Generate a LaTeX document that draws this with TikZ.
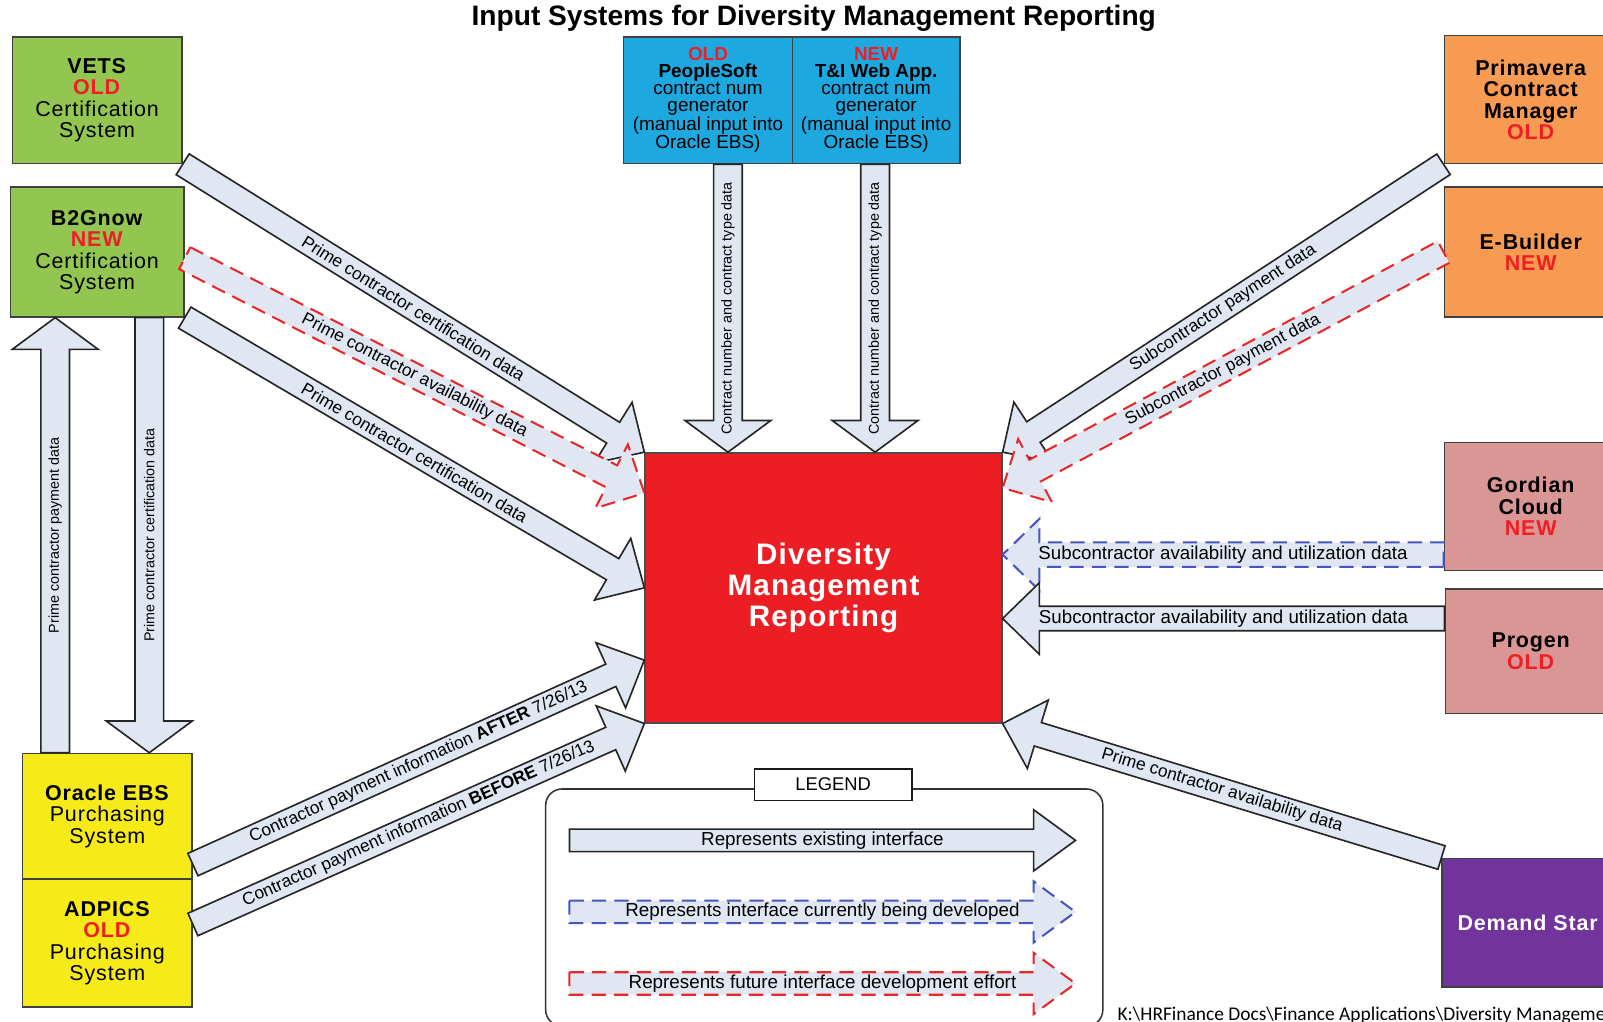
\documentclass[tikz,border=0pt]{standalone}
\usepackage{fontspec}
\setmainfont{Liberation Sans}
\newfontfamily\notefont{Carlito}
\newfontfamily\spacedfont[LetterSpace=4]{Liberation Sans}
\usetikzlibrary{calc}

\definecolor{vetsgreen}{RGB}{146,198,80}
\definecolor{psblue}{RGB}{30,168,224}
\definecolor{primorange}{RGB}{247,154,82}
\definecolor{gordpink}{RGB}{217,150,148}
\definecolor{dspurple}{RGB}{112,52,156}
\definecolor{ebsyellow}{RGB}{246,234,24}
\definecolor{dmrred}{RGB}{236,30,36}
\definecolor{tagred}{RGB}{240,30,36}
\definecolor{arrowfill}{RGB}{224,231,242}
\definecolor{devblue}{RGB}{70,86,190}
\definecolor{futred}{RGB}{230,40,40}

\newcommand\tagold{\textcolor{tagred}{\textbf{OLD}}}
\newcommand\tagnew{\textcolor{tagred}{\textbf{NEW}}}

\tikzset{
  shaft width/.store in=\iashaft,
  head width/.store in=\iahead,
  head length/.store in=\iahlen,
  text pos/.store in=\iapos,
  lbl font/.store in=\ialblfont,
  iface/.style={shaft width=24, head width=70, head length=36, text pos=0.5,
    lbl font=\fontsize{17}{18}\selectfont, line width=1.6pt, draw=black!85},
  updown/.style={shaft width=28, head width=84, head length=31,
    lbl font=\fontsize{14}{15}\selectfont},
  keyarrow/.style={shaft width=22, head width=60, head length=41,
    lbl font=\fontsize{18.4}{19}\selectfont},
  widelbl/.style={lbl font=\fontsize{18.3}{19}\selectfont},
  planned/.style={draw=devblue, line width=2pt, dash pattern=on 14pt off 8pt},
  future/.style={draw=futred, line width=2pt, dash pattern=on 14pt off 8pt},
  sysbox/.style={draw=black!75, line width=1.4pt, align=center, inner sep=0pt,
    font=\spacedfont\fontsize{21}{21}\selectfont},
  boxtext/.style={align=center, font=\spacedfont\fontsize{21}{21}\selectfont},
}

% block arrow with its label: [style]{from}{to}{label name}{label}
\newcommand\iface[5][]{%
  \begin{scope}[iface,#1]
    \coordinate (ia) at (#2);
    \coordinate (ib) at (#3);
    \pgfpointdiff{\pgfpointanchor{ia}{center}}{\pgfpointanchor{ib}{center}}%
    \pgfgetlastxy\iadx\iady
    \pgfmathsetmacro\ialen{veclen(\iadx,\iady)}%
    \pgfmathsetmacro\iaang{atan2(\iady,\iadx)}%
    \pgfmathsetmacro\iatxt{(\iaang<-89.5 || \iaang>90.5) ? \iaang+180 : \iaang}%
    \pgfmathsetmacro\iabase{\ialen-\iahlen}%
    \pgfmathsetmacro\ias{\iashaft/2}%
    \pgfmathsetmacro\iah{\iahead/2}%
    \draw[fill=arrowfill, shift={(ia)}, rotate=\iaang]
      (0pt,\ias pt) -- (\iabase pt,\ias pt) -- (\iabase pt,\iah pt) -- (\ialen pt,0pt)
      -- (\iabase pt,-\iah pt) -- (\iabase pt,-\ias pt) -- (0pt,-\ias pt) -- cycle;
    \node[font=\ialblfont, rotate=\iatxt, inner sep=0pt] (#4) at ($(ia)!\iapos!(ib)$) {#5};
  \end{scope}}

\begin{document}
\begin{tikzpicture}[x=1pt,y=-1pt]
\path[use as bounding box, fill=white] (0,0) rectangle (1568,999);

\node[font=\bfseries\fontsize{27.5}{29}\selectfont] (title) at (796,18)
  {Input Systems for Diversity Management Reporting};

% systems on the left
\node[sysbox, fill=vetsgreen, minimum width=166, minimum height=124] (vets) at (95,98)
  {\textbf{VETS}\\\tagold\\Certification\\System};
\node[sysbox, fill=vetsgreen, minimum width=170, minimum height=127] (b2g) at (95,246.5)
  {\textbf{B2Gnow}\\\tagnew\\Certification\\System};
\node[sysbox, fill=ebsyellow, minimum width=166, minimum height=123] (ebs) at (105,798.5)
  {\textbf{Oracle EBS}\\Purchasing\\System};
\node[sysbox, fill=ebsyellow, minimum width=166, minimum height=125] (adp) at (105,922.5)
  {\textbf{ADPICS}\\\tagold\\Purchasing\\System};

% systems on top
\node[sysbox, fill=psblue, minimum width=165, minimum height=124,
  font=\fontsize{18.5}{16.5}\selectfont] (ps) at (692.5,98)
  {\tagold\\\textbf{PeopleSoft}\\contract num\\generator\\(manual input into\\Oracle EBS)};
\node[sysbox, fill=psblue, minimum width=164, minimum height=124,
  font=\fontsize{18.5}{16.5}\selectfont] (ti) at (857,98)
  {\tagnew\\\textbf{T\&I Web App.}\\contract num\\generator\\(manual input into\\Oracle EBS)};

% reporting
\node[draw=black!70, line width=1.4pt, fill=dmrred, minimum width=349, minimum height=264,
  text=white, align=center, font=\spacedfont\bfseries\fontsize{29}{30}\selectfont] (dmr) at (805.5,575)
  {Diversity\\Management\\Reporting};

% systems on the right (cut by the page edge)
\node[sysbox, fill=primorange, minimum width=215, minimum height=125, anchor=west,
  label={[boxtext, xshift=-22.5pt]center:{\textbf{Primavera}\\\textbf{Contract}\\\textbf{Manager}\\\tagold}}]
  (prim) at (1412,97.5) {};
\node[sysbox, fill=primorange, minimum width=215, minimum height=127, anchor=west,
  label={[boxtext, xshift=-22.5pt]center:{\textbf{E-Builder}\\\tagnew}}]
  (ebld) at (1412,246.5) {};
\node[sysbox, fill=gordpink, minimum width=215, minimum height=125, anchor=west,
  label={[boxtext, xshift=-22.5pt]center:{\textbf{Gordian}\\\textbf{Cloud}\\\tagnew}}]
  (gord) at (1412,495.5) {};
\node[sysbox, fill=gordpink, minimum width=215, minimum height=122, anchor=west,
  label={[boxtext, xshift=-23.5pt]center:{\textbf{Progen}\\\tagold}}]
  (prog) at (1413,637) {};
\node[sysbox, fill=dspurple, minimum width=215, minimum height=126, anchor=west,
  label={[boxtext, text=white, xshift=-23.5pt]center:{\textbf{Demand Star}}}]
  (dstar) at (1410,902.5) {};

% interfaces
\iface{vets.south east}{dmr.north west}{l1}{Prime contractor certification data}
\iface[future]{[yshift=-6pt]b2g.east}{[yshift=-40pt]dmr.north west}{l2}{Prime contractor availability data}
\iface{b2g.south east}{dmr.west}{l3}{Prime contractor certification data}
\iface{[yshift=15pt]ebs.south east}{[yshift=62pt]dmr.south west}{l4}{Contractor payment information \textbf{AFTER} 7/26/13}
\iface{[yshift=-45pt]adp.north east}{dmr.south west}{l5}{Contractor payment information \textbf{BEFORE} 7/26/13}
\iface[updown]{[xshift=-51pt]ebs.north}{[xshift=-41pt]b2g.south}{l6}{Prime contractor payment data}
\iface[updown]{[xshift=51pt]b2g.south}{[xshift=41pt]ebs.north}{l7}{Prime contractor certification data}
\coordinate (psb) at ([xshift=19.5pt]ps.south);
\iface[updown]{psb}{psb |- dmr.north}{l8}{Contract number and contract type data}
\coordinate (tib) at ([xshift=-1pt]ti.south);
\iface[updown]{tib}{tib |- dmr.north}{l9}{Contract number and contract type data}
\iface{prim.south west}{dmr.north east}{l10}{Subcontractor payment data}
\iface[future]{ebld.west}{[yshift=-35pt]dmr.north east}{l11}{Subcontractor payment data}
\coordinate (gda) at ([yshift=-47pt]gord.west);
\iface[planned, widelbl]{gda}{gda -| dmr.east}{l12}{Subcontractor availability and utilization data}
\coordinate (pga) at ([yshift=32pt]prog.west);
\iface[widelbl]{pga}{pga -| dmr.east}{l13}{Subcontractor availability and utilization data}
\iface{dstar.north west}{dmr.south east}{l14}{Prime contractor availability data}

% legend
\node[draw=black!80, line width=1.5pt, rounded corners=16pt, minimum width=545,
  minimum height=232, anchor=north west] (legend) at (533,771) {};
\node[draw=black!90, line width=1.5pt, fill=white, minimum width=154, minimum height=31,
  font=\fontsize{18}{19}\selectfont] (legtitle) at (815,767.5) {LEGEND};
\coordinate (k1a) at (557,822);
\coordinate (k1b) at (1052,822);
\coordinate (k2a) at (557,892);
\coordinate (k2b) at (1052,892);
\coordinate (k3a) at (557,962);
\coordinate (k3b) at (1052,962);
\iface[keyarrow]{k1a}{k1b}{key1}{Represents existing interface}
\iface[planned, keyarrow]{k2a}{k2b}{key2}{Represents interface currently being developed}
\iface[future, keyarrow]{k3a}{k3b}{key3}{Represents future interface development effort}

\node[anchor=west, inner sep=0pt, font=\notefont\fontsize{19}{20}\selectfont] (fpath) at (1093,993)
  {K:\textbackslash HRFinance Docs\textbackslash Finance Applications\textbackslash Diversity Management};
\end{tikzpicture}
\end{document}
